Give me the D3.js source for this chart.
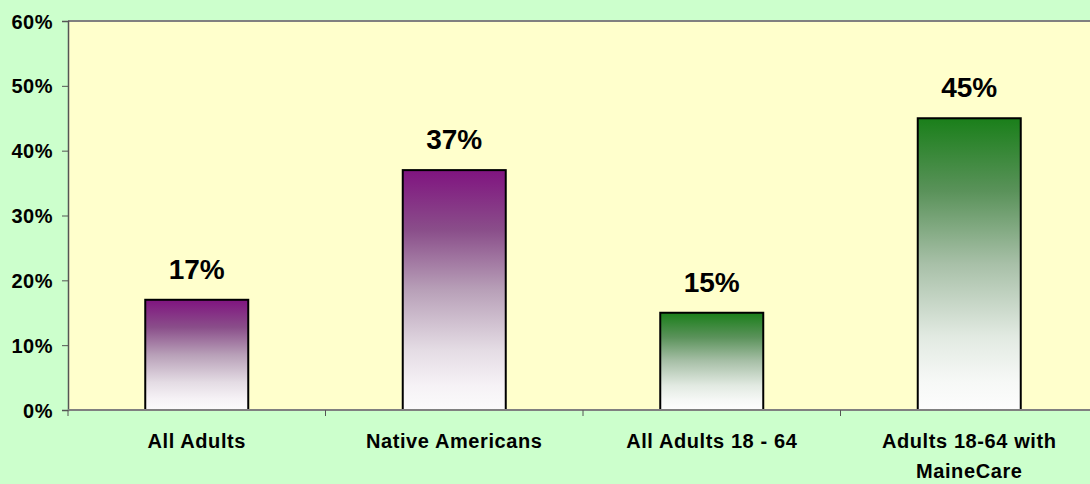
<!DOCTYPE html>
<html>
<head>
<meta charset="utf-8">
<script src="https://cdn.jsdelivr.net/npm/d3@7"></script>
<style>
  html, body { margin: 0; padding: 0; background: #ccffcc; }
  svg { display: block; }
  text { font-family: "Liberation Sans", Arial, sans-serif; font-weight: bold; fill: #000; }
</style>
</head>
<body>
<svg id="chart" width="1090" height="484"></svg>
<script>
// Share of adults, by group
const categories = ["All Adults", "Native Americans", "All Adults 18 - 64", "Adults 18-64 with|MaineCare"];
const values = [17, 37, 15, 45];
const barPalette = ["purple", "purple", "green", "green"];
const yTicks = [0, 10, 20, 30, 40, 50, 60];

// gradient stops: strong colour at the top, fading through a muted tone to white
const gradientStops = {
  purple: [["0%", "#801480"], ["25%", "#8a4e8a"], ["50%", "#b8a0b8"], ["75%", "#e4dce4"], ["90%", "#f6f2f6"], ["100%", "#fbfbfb"]],
  green:  [["0%", "#1a7f1a"], ["25%", "#5a925a"], ["50%", "#a8c0a8"], ["75%", "#e2eae2"], ["90%", "#f6f8f6"], ["100%", "#fdfdfd"]]
};

const svg = d3.select("#chart");
const W = 1090, H = 484;
const margin = { left: 68, top: 21, bottom: 74 };
const plotRight = 1098; // plot area runs past the right edge
const plotBottom = H - margin.bottom;

const x = d3.scaleBand().domain(categories).range([margin.left, plotRight]).paddingInner(0.6).paddingOuter(0.3);
const xTicks = d3.scaleBand().domain(categories).range([margin.left, plotRight]);
const y = d3.scaleLinear().domain([0, 60]).range([plotBottom, margin.top]);

const defs = svg.append("defs");
Object.entries(gradientStops).forEach(([name, stops]) => {
  const g = defs.append("linearGradient").attr("id", "grad-" + name)
    .attr("x1", 0).attr("y1", 0).attr("x2", 0).attr("y2", 1);
  stops.forEach(([o, c]) => g.append("stop").attr("offset", o).attr("stop-color", c));
});

// plot background
svg.append("rect")
  .attr("x", margin.left).attr("y", margin.top)
  .attr("width", plotRight - margin.left).attr("height", plotBottom - margin.top)
  .attr("fill", "#ffffcc");

// top border of plot area
svg.append("line")
  .attr("x1", margin.left).attr("x2", plotRight)
  .attr("y1", margin.top).attr("y2", margin.top)
  .attr("stroke", "#808080").attr("stroke-width", 2);

// bars
svg.selectAll("rect.bar").data(values).enter().append("rect")
  .attr("class", "bar")
  .attr("x", (d, i) => x(categories[i]))
  .attr("y", d => y(d))
  .attr("width", x.bandwidth())
  .attr("height", d => plotBottom - y(d))
  .attr("fill", (d, i) => `url(#grad-${barPalette[i]})`)
  .attr("stroke", "#000").attr("stroke-width", 2);

// value labels
svg.selectAll("text.val").data(values).enter().append("text")
  .attr("class", "val")
  .attr("x", (d, i) => x(categories[i]) + x.bandwidth() / 2)
  .attr("y", d => y(d) - 21)
  .attr("text-anchor", "middle")
  .style("font-size", "28px")
  .text(d => d + "%");

// y axis
const yAxis = svg.append("g").attr("transform", `translate(${margin.left},0)`)
  .call(d3.axisLeft(y).tickValues(yTicks).tickSize(6).tickPadding(9).tickFormat(d => d + "%"));
yAxis.select(".domain").attr("stroke", "#555").attr("stroke-width", 1.5);
yAxis.selectAll(".tick line").attr("stroke", "#555");
yAxis.selectAll("text").style("font-size", "20px").style("letter-spacing", "0.5px").attr("dy", "0.35em");

// x axis baseline and category dividers
const xg = svg.append("g");
xg.append("line")
  .attr("x1", margin.left).attr("x2", plotRight)
  .attr("y1", plotBottom).attr("y2", plotBottom)
  .attr("stroke", "#808080").attr("stroke-width", 2);
xg.selectAll("line.tk").data(categories).enter().append("line")
  .attr("class", "tk")
  .attr("x1", d => xTicks(d)).attr("x2", d => xTicks(d))
  .attr("y1", plotBottom).attr("y2", plotBottom + 6)
  .attr("stroke", "#555");

// category labels
categories.forEach(c => {
  const lines = c.split("|");
  const cx = x(c) + x.bandwidth() / 2;
  const t = svg.append("text")
    .attr("x", cx)
    .attr("y", 448)
    .attr("text-anchor", "middle")
    .style("font-size", "20px")
    .style("letter-spacing", "0.6px");
  lines.forEach((ln, j) => {
    t.append("tspan").attr("x", cx).attr("dy", j === 0 ? 0 : 30).text(ln);
  });
});
</script>
</body>
</html>
